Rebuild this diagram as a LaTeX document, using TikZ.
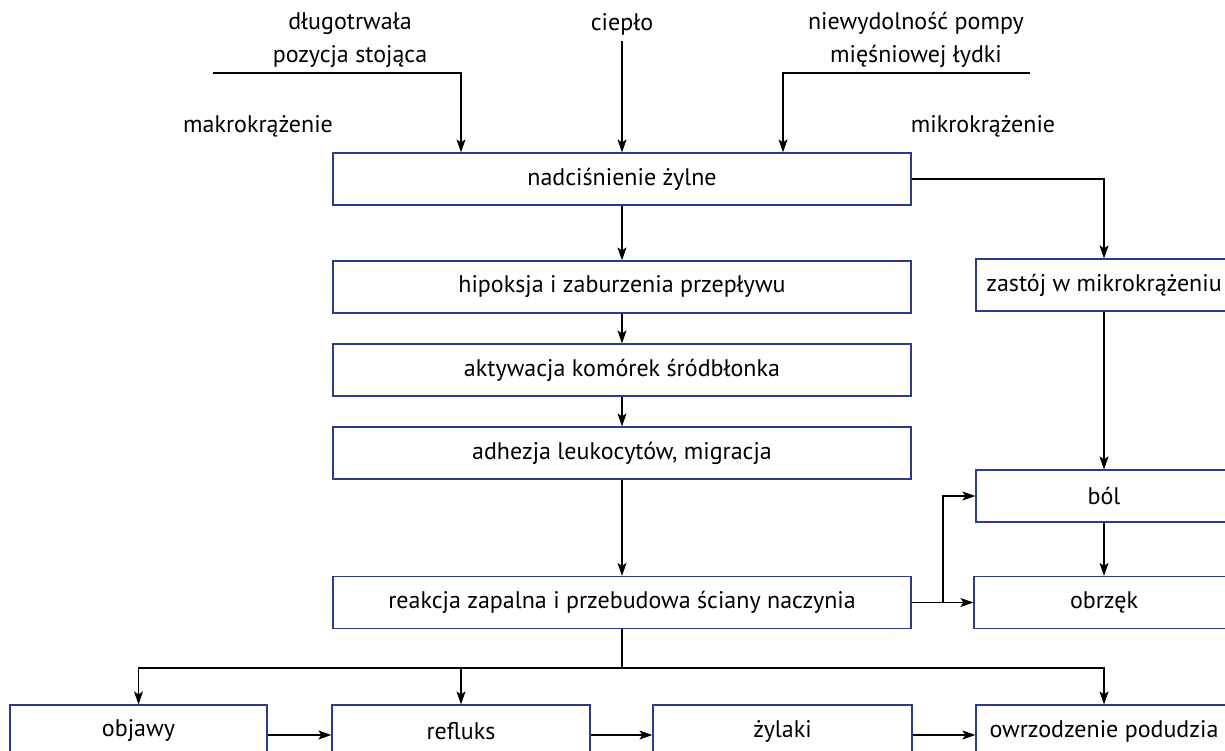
\documentclass[tikz,border=0pt]{standalone}
\usepackage{fontspec}
\setmainfont{PT Sans}
\usetikzlibrary{arrows.meta}
\definecolor{boxblue}{HTML}{2E3A8C}
\begin{document}
\begin{tikzpicture}[x=1pt,y=-1pt,
  box/.style={draw=boxblue,line width=1.2pt,fill=white,inner sep=0pt,minimum height=52pt,font=\fontsize{24}{28}\selectfont},
  lbl/.style={inner sep=0pt,font=\fontsize{24}{33}\selectfont,align=center},
  conn/.style={draw=black,line width=1.2pt},
  arr/.style={conn,-{Stealth[length=13pt,width=9pt,inset=3pt]}}]
\useasboundingbox (0,0) rectangle (1225,751);
\clip (0,0) rectangle (1225,751);
% main column
\node[box,minimum width=578pt] (b1) at (622,179) {nadciśnienie żylne};
\node[box,minimum width=578pt] (b2) at (622,287) {hipoksja i zaburzenia przepływu};
\node[box,minimum width=578pt] (b3) at (622,370) {aktywacja komórek śródbłonka};
\node[box,minimum width=578pt] (b4) at (622,453) {adhezja leukocytów, migracja};
\node[box,minimum width=578pt] (b5) at (622,602.5) {reakcja zapalna i przebudowa ściany naczynia};
% right column
\node[box,minimum width=256pt] (zas) at (1104,285) {zastój w mikrokrążeniu};
\node[box,minimum width=256pt] (bol) at (1104,496) {ból};
\node[box,minimum width=260pt] (obr) at (1104,602.5) {obrzęk};
% bottom row
\node[box,minimum width=257pt] (obj) at (138.5,731) {objawy};
\node[box,minimum width=258pt] (ref) at (461,731) {refluks};
\node[box,minimum width=259pt] (zyl) at (782.5,731) {żylaki};
\node[box,minimum width=256pt] (owr) at (1104,731) {owrzodzenie podudzia};
% top labels
\node[lbl] (t1) at (350,40) {długotrwała\\pozycja stojąca};
\node[lbl] (t2) at (622,24) {ciepło};
\node[lbl] (t3) at (916,40) {niewydolność pompy\\mięśniowej łydki};
\node[lbl] (mak) at (258,126) {makrokrążenie};
\node[lbl] (mik) at (983,126) {mikrokrążenie};
\coordinate (s1) at (213,73);
\coordinate (s2) at (622,41);
\coordinate (s3) at (1030,73);
% connectors
\draw[arr] (s1) -| ([xshift=-161pt]b1.north);
\draw[arr] (s2) -- (b1.north);
\draw[arr] (s3) -| ([xshift=161pt]b1.north);
\draw[arr] (b1) -- (b2);
\draw[arr] (b2) -- (b3);
\draw[arr] (b3) -- (b4);
\draw[arr] (b4) -- (b5);
\draw[arr] (b1.east) -| (zas.north);
\draw[arr] (zas) -- (bol);
\draw[arr] (bol) -- (obr);
\draw[arr] (b5.east) -- (obr.west);
\coordinate (br) at (943,602.5);
\draw[arr] (br) |- (bol.west);
\coordinate (hb) at (622,668);
\draw[conn] (b5.south) -- (hb);
\draw[arr] (hb) -| (obj.north);
\draw[arr] (hb) -| (owr.north);
\draw[arr] (ref.north |- hb) -- (ref.north);
\draw[arr] (obj.east |- 0,735) -- (ref.west |- 0,735);
\draw[arr] (ref.east |- 0,735) -- (zyl.west |- 0,735);
\draw[arr] (zyl.east |- 0,735) -- (owr.west |- 0,735);
\end{tikzpicture}
\end{document}
